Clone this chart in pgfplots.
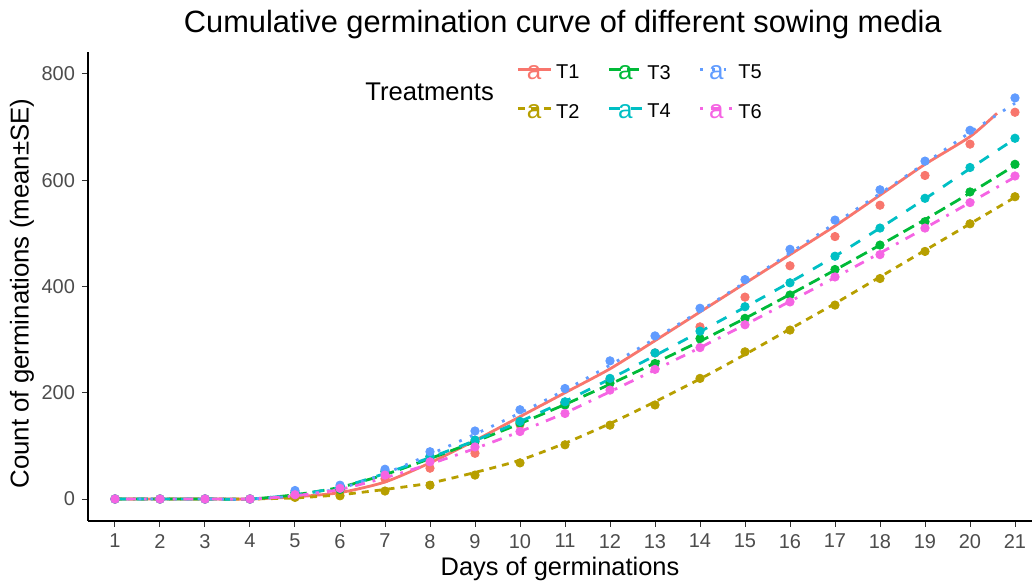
\documentclass[border=0pt]{standalone}
\usepackage{pgfplots}
\pgfplotsset{compat=1.18}
\usepackage{pgfplotstable}
\usepackage{fontspec}
\setmainfont{Liberation Sans}
\definecolor{cT1}{HTML}{F8766D}
\definecolor{cT2}{HTML}{B79F00}
\definecolor{cT3}{HTML}{00BA38}
\definecolor{cT4}{HTML}{00BFC4}
\definecolor{cT5}{HTML}{619CFF}
\definecolor{cT6}{HTML}{F564E3}
\pgfplotstableread{
x T1 T2 T3 T4 T5 T6
1 0 0 0 0 0 0
2 0 0 0 0 0 0
3 0 0 0 0 0 0
4 0 0 0 0 0 0
5 8 3 12 12 16 8
6 15 6 18 20 26 20
7 38 15 52 52 56 45
8 58 26 80 80 89 70
9 86 45 108 111 128 98
10 140 68 143 146 168 127
11 180 102 177 183 208 161
12 225 139 218 227 260 205
13 275 177 255 275 307 244
14 324 227 302 316 359 285
15 380 277 340 362 413 328
16 439 318 384 407 470 371
17 494 365 432 457 525 418
18 553 415 478 510 582 460
19 609 466 522 566 636 510
20 668 518 578 624 694 558
21 728 569 630 679 755 608
}\pts
\pgfplotstableread{
x T2 T3 T4 T5 T6
1 0 0 0 0 0
2 0 0 0 0 0
3 0 0 0 0 0
4 0 0 0 0 0
5 2 8 8 6 6
6 8 22 22 20 18
7 18 46 48 48 40
8 30 76 78 84 66
9 50 108 110 122 95
10 73 142 146 162 127
11 105 178 184 205 162
12 142 216 226 252 202
13 183 256 270 302 243
14 226 297 315 354 285
15 272 340 361 408 328
16 320 385 408 463 372
17 368 431 457 519 417
18 418 478 510 575 463
19 468 526 565 632 510
20 518 576 622 690 558
21 568 628 678 745 606
}\fits
\pgfplotstableread{
x T1
1 0
2 0
3 0
4 0
5 4
6 12
7 32
8 68
9 110
10 155
11 200
12 245
13 298
14 352
15 406
16 460
17 514
18 572
19 630
20 682
20.6 726
}\fitone
\begin{document}
\begin{tikzpicture}
\begin{axis}[
  name=ax,
  scale only axis, width=472pt, height=234.5pt,
  xmin=0.4, xmax=21.378, ymin=-41.4, ymax=841.4,
  axis lines=left,
  axis line style={-, black, line width=0.55pt},
  xtick={1,...,21}, ytick={0,200,...,800},
  tick align=outside, major tick length=3pt,
  tick style={color=black!80, line width=0.5pt},
  tick label style={font=\fontsize{10}{12}\selectfont, color=black!70},
  /pgf/number format/assume math mode=true,
  xlabel={Days of germinations},
  ylabel={Count of germinations (mean±SE)},
  every axis x label/.style={at={(axis description cs:0.5,0)}, anchor=center, yshift=-24pt, font=\fontsize{12.7}{14}\selectfont},
  every axis y label/.style={at={(axis description cs:-0.0699,0.485)}, rotate=90, anchor=center, font=\fontsize{12.9}{14}\selectfont},
  title={Cumulative germination curve of different sowing media},
  every axis title/.style={at={(axis description cs:0.503,1)}, anchor=center, yshift=13.5pt, font=\fontsize{15.4}{18}\selectfont},
  legend style={draw=none, fill=none, at={(axis description cs:0.447,0.99)}, anchor=north west,
    font=\fontsize{10}{12}\selectfont, row sep=7pt,
    /tikz/every even column/.append style={column sep=12pt}},
  legend columns=3,
  clip=true,
]
% points
\addplot[only marks, mark=*, mark size=2.1pt, color=cT1, forget plot] table[x=x,y=T1]{\pts};
\addplot[only marks, mark=*, mark size=2.1pt, color=cT2, forget plot] table[x=x,y=T2]{\pts};
\addplot[only marks, mark=*, mark size=2.1pt, color=cT3, forget plot] table[x=x,y=T3]{\pts};
\addplot[only marks, mark=*, mark size=2.1pt, color=cT4, forget plot] table[x=x,y=T4]{\pts};
\addplot[only marks, mark=*, mark size=2.1pt, color=cT5, forget plot] table[x=x,y=T5]{\pts};
\addplot[only marks, mark=*, mark size=2.1pt, color=cT6, forget plot] table[x=x,y=T6]{\pts};
% fitted lines
\addplot[no marks, smooth, tension=0.4, color=cT1, line width=1.4pt, forget plot] table[x=x,y=T1]{\fitone};
\addplot[no marks, smooth, tension=0.4, color=cT2, line width=1.4pt, dash pattern=on 3.5pt off 3pt, forget plot] table[x=x,y=T2]{\fits};
\addplot[no marks, smooth, tension=0.4, color=cT3, line width=1.4pt, dash pattern=on 6pt off 3pt, forget plot] table[x=x,y=T3]{\fits};
\addplot[no marks, smooth, tension=0.4, color=cT4, line width=1.4pt, dash pattern=on 5.5pt off 5.5pt, forget plot] table[x=x,y=T4]{\fits};
\addplot[no marks, smooth, tension=0.4, color=cT5, line width=1.4pt, dash pattern=on 1.4pt off 4.5pt, forget plot] table[x=x,y=T5]{\fits};
\addplot[no marks, smooth, tension=0.4, color=cT6, line width=1.4pt, dash pattern=on 1.4pt off 4pt on 5pt off 4pt, forget plot] table[x=x,y=T6]{\fits};
% legend
\addlegendimage{legend image code/.code={\draw[cT1,line width=1.4pt] (0pt,2pt)--(16.5pt,2pt); \node[text=cT1,inner sep=0pt,font=\fontsize{13}{13}\selectfont] at (8.2pt,0pt) {a};}}
\addlegendentry{T1}
\addlegendimage{legend image code/.code={\draw[cT3,line width=1.4pt,dash pattern=on 6pt off 3pt] (0pt,2pt)--(16.5pt,2pt); \node[text=cT3,inner sep=0pt,font=\fontsize{13}{13}\selectfont] at (8.2pt,0pt) {a};}}
\addlegendentry{T3}
\addlegendimage{legend image code/.code={\draw[cT5,line width=1.4pt,dash pattern=on 1.4pt off 4.5pt] (0pt,2pt)--(16.5pt,2pt); \node[text=cT5,inner sep=0pt,font=\fontsize{13}{13}\selectfont] at (8.2pt,0pt) {a};}}
\addlegendentry{T5}
\addlegendimage{legend image code/.code={\draw[cT2,line width=1.4pt,dash pattern=on 3.5pt off 3pt] (0pt,2pt)--(16.5pt,2pt); \node[text=cT2,inner sep=0pt,font=\fontsize{13}{13}\selectfont] at (8.2pt,0pt) {a};}}
\addlegendentry{T2}
\addlegendimage{legend image code/.code={\draw[cT4,line width=1.4pt,dash pattern=on 5.5pt off 5.5pt] (0pt,2pt)--(16.5pt,2pt); \node[text=cT4,inner sep=0pt,font=\fontsize{13}{13}\selectfont] at (8.2pt,0pt) {a};}}
\addlegendentry{T4}
\addlegendimage{legend image code/.code={\draw[cT6,line width=1.4pt,dash pattern=on 1.4pt off 4pt on 5pt off 4pt] (0pt,2pt)--(16.5pt,2pt); \node[text=cT6,inner sep=0pt,font=\fontsize{13}{13}\selectfont] at (8.2pt,0pt) {a};}}
\addlegendentry{T6}
\node[anchor=west, inner sep=0pt, font=\fontsize{12.8}{14}\selectfont] at (rel axis cs:0.2934,0.9147) {Treatments};
\end{axis}
\pgfresetboundingbox
\path[use as bounding box] ([shift={(-44pt,-30.5pt)}]ax.south west) rectangle ([shift={(0pt,26pt)}]ax.north east);
\end{tikzpicture}
\end{document}
